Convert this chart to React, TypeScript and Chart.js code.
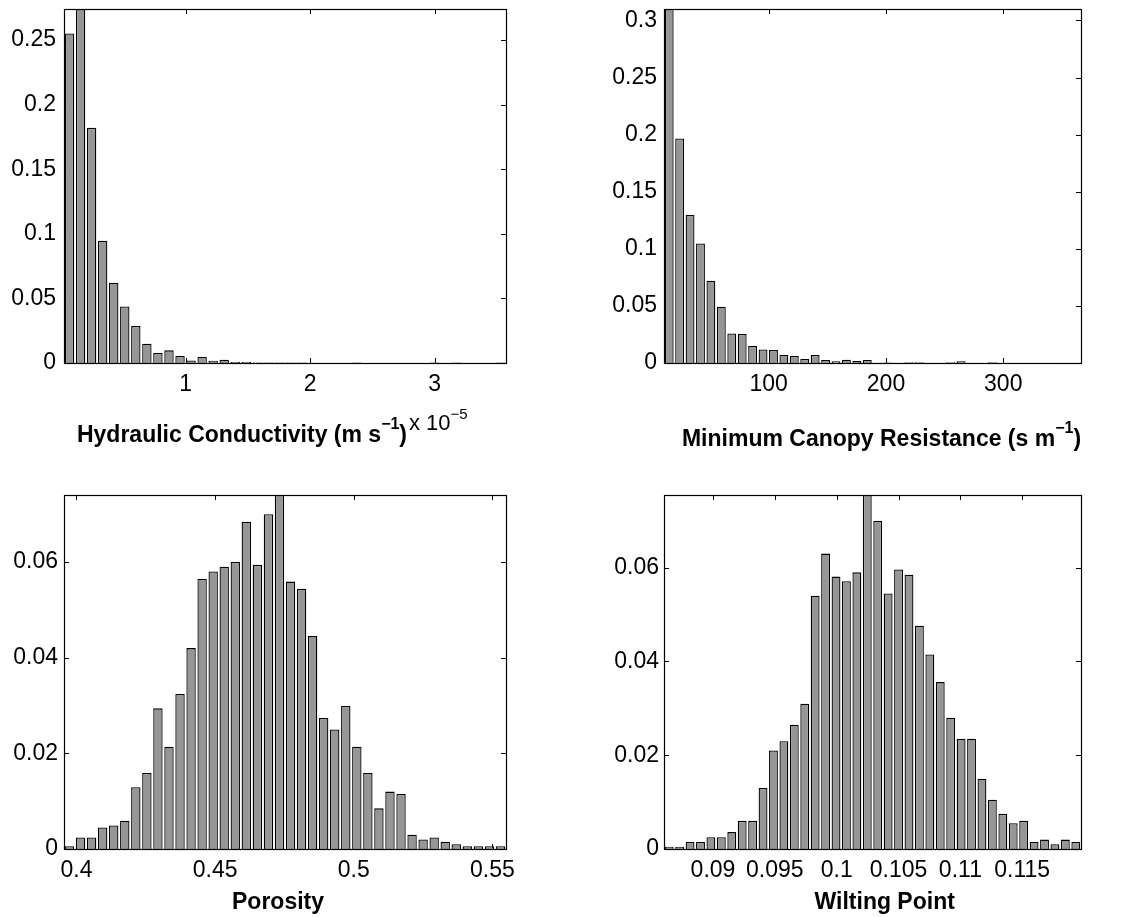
import React, { useEffect, useRef } from 'react';
import { Chart, registerables } from 'chart.js';

Chart.register(...registerables);

// ---------------- DATA ----------------
// Panel 1: Hydraulic Conductivity (x 10^-5 m s^-1), 40 bins over the axis range
const hcRange = [0.022, 3.573];
const hcFreq = [
  0.255, 0.28, 0.182, 0.0946, 0.0621, 0.0438, 0.0286, 0.0149, 0.0077, 0.0098,
  0.0054, 0.002, 0.0046, 0.0018, 0.0026, 0.0008, 0.0008, 0.0003, 0.0003, 0.0003,
  0.0003, 0.0003, 0, 0, 0, 0, 0.0003, 0, 0, 0,
  0, 0, 0, 0.0003, 0, 0.0003, 0, 0, 0, 0.0003,
];
const hcXTicks = [1, 2, 3];
const hcYTicks = [0, 0.05, 0.1, 0.15, 0.2, 0.25];
const hcYMax = 0.274;

// Panel 2: Minimum Canopy Resistance (s m^-1)
const mcrRange = [10.7, 366.3];
const mcrFreq = [
  0.317, 0.1967, 0.1297, 0.1046, 0.072, 0.0492, 0.0259, 0.0254, 0.0149, 0.0119,
  0.0114, 0.0073, 0.0061, 0.0035, 0.007, 0.0026, 0.0015, 0.0029, 0.0017, 0.0026,
  0.0003, 0.0005, 0.0003, 0.0007, 0.0007, 0.0003, 0, 0.0007, 0.0015, 0.0003,
  0, 0.0007, 0, 0, 0, 0, 0, 0, 0.0003, 0.0003,
];
const mcrXTicks = [100, 200, 300];
const mcrYTicks = [0, 0.05, 0.1, 0.15, 0.2, 0.25, 0.3];
const mcrYMax = 0.31;

// Panel 3: Porosity
const porRange = [0.3955, 0.5549];
const porFreq = [
  0.0006, 0.0024, 0.0024, 0.0045, 0.0049, 0.0059, 0.0129, 0.0159, 0.0294, 0.0214,
  0.0324, 0.042, 0.0565, 0.058, 0.059, 0.06, 0.0684, 0.0594, 0.07, 0.0753,
  0.0559, 0.0544, 0.0445, 0.0274, 0.025, 0.0299, 0.0214, 0.0159, 0.0085, 0.012,
  0.0115, 0.003, 0.002, 0.0024, 0.0015, 0.001, 0.0006, 0.0006, 0.0006, 0.0006,
];
const porXTicks = [0.4, 0.45, 0.5, 0.55];
const porYTicks = [0, 0.02, 0.04, 0.06];
const porYMax = 0.074;

// Panel 4: Wilting Point
const wpRange = [0.08604, 0.11975];
const wpFreq = [
  0.0005, 0.0005, 0.0015, 0.0015, 0.0025, 0.0025, 0.0036, 0.006, 0.006, 0.013,
  0.021, 0.023, 0.0265, 0.031, 0.054, 0.063, 0.0581, 0.0571, 0.059, 0.078,
  0.07, 0.0545, 0.0596, 0.0585, 0.0476, 0.0415, 0.0356, 0.028, 0.0235, 0.0235,
  0.015, 0.0105, 0.0075, 0.0055, 0.006, 0.0015, 0.002, 0.001, 0.002, 0.0015,
];
const wpXTicks = [0.09, 0.095, 0.1, 0.105, 0.11, 0.115];
const wpYTicks = [0, 0.02, 0.04, 0.06];
const wpYMax = 0.0755;

// ---------------- STYLE / LAYOUT ----------------
const FONT = '"Liberation Sans", Arial, Helvetica, sans-serif';
const TICK_SIZE = 23;
const LABEL_SIZE = 23;
const BAR_FILL = '#969696';

type Seg = { text: string; sup?: boolean };

type PanelCfg = {
  range: number[];
  freq: number[];
  xTicks: number[];
  yTicks: number[];
  yMax: number;
  left: number;
  top: number;
  w: number;
  h: number;
  yAxisW: number;
  xAxisH: number;
  padTop: number;
  padRight: number;
  yPad: number;
  label: Seg[];
  labelX: number;
  labelY: number;
  exponent?: { segs: Seg[]; x: number; y: number };
};

function binCenters(range: number[], n: number) {
  const w = (range[1] - range[0]) / n;
  return Array.from({ length: n }, (_, i) => range[0] + (i + 0.5) * w);
}

function drawRich(
  ctx: CanvasRenderingContext2D,
  segs: Seg[],
  x0: number,
  baseline: number,
  weight: string,
  size: number,
  supSize: number,
  supRise: number,
  align: 'center' | 'left'
) {
  const fMain = `${weight} ${size}px ${FONT}`;
  const fSup = `${weight} ${supSize}px ${FONT}`;
  let total = 0;
  const widths = segs.map((s) => {
    ctx.font = s.sup ? fSup : fMain;
    const w = ctx.measureText(s.text).width;
    total += w;
    return w;
  });
  let x = align === 'center' ? x0 - total / 2 : x0;
  ctx.textAlign = 'left';
  ctx.textBaseline = 'alphabetic';
  ctx.fillStyle = '#000';
  segs.forEach((s, i) => {
    ctx.font = s.sup ? fSup : fMain;
    ctx.fillText(s.text, x, s.sup ? baseline - supRise : baseline);
    x += widths[i];
  });
}

const matlabAxes = {
  id: 'matlabAxes',
  beforeDatasetsDraw(chart: any, _args: any, opts: any) {
    const { ctx, chartArea: a, scales } = chart;
    const tl = 5;
    ctx.save();
    ctx.strokeStyle = '#000';
    ctx.lineWidth = 1;
    ctx.beginPath();
    (opts.xTicks as number[]).forEach((v) => {
      const px = Math.round(scales.x.getPixelForValue(v)) + 0.5;
      ctx.moveTo(px, a.bottom);
      ctx.lineTo(px, a.bottom - tl);
      ctx.moveTo(px, a.top);
      ctx.lineTo(px, a.top + tl);
    });
    (opts.yTicks as number[]).forEach((v) => {
      const py = Math.round(scales.y.getPixelForValue(v)) + 0.5;
      ctx.moveTo(a.left, py);
      ctx.lineTo(a.left + tl, py);
      ctx.moveTo(a.right, py);
      ctx.lineTo(a.right - tl, py);
    });
    ctx.stroke();
    ctx.restore();
  },
  afterDatasetsDraw(chart: any, _args: any, opts: any) {
    const { ctx, chartArea: a } = chart;
    ctx.save();
    ctx.strokeStyle = '#000';
    ctx.lineWidth = 1.2;
    ctx.strokeRect(a.left + 0.5, a.top + 0.5, a.right - a.left, a.bottom - a.top);
    drawRich(ctx, opts.label, opts.labelX, opts.labelY, 'bold', LABEL_SIZE, 16, 13, 'center');
    if (opts.exponent) {
      drawRich(ctx, opts.exponent.segs, opts.exponent.x, opts.exponent.y, 'normal', 22, 15, 11, 'left');
    }
    ctx.restore();
  },
};

const fmt = (v: any) => String(v);

function buildConfig(p: PanelCfg): any {
  const centers = binCenters(p.range, p.freq.length);
  return {
    type: 'bar',
    data: {
      datasets: [
        {
          data: centers.map((x, i) => ({ x, y: p.freq[i] })),
          backgroundColor: BAR_FILL,
          borderColor: '#000',
          borderWidth: 1.3,
          barPercentage: 0.85,
          categoryPercentage: 1,
          clip: 0,
        },
      ],
    },
    options: {
      animation: false,
      responsive: false,
      devicePixelRatio: 1,
      layout: { padding: { top: p.padTop, right: p.padRight, left: 0, bottom: 0 } },
      plugins: {
        legend: { display: false },
        tooltip: { enabled: false },
        matlabAxes: {
          xTicks: p.xTicks,
          yTicks: p.yTicks,
          label: p.label,
          labelX: p.labelX,
          labelY: p.labelY,
          exponent: p.exponent,
        },
      },
      scales: {
        x: {
          type: 'linear',
          min: p.range[0],
          max: p.range[1],
          offset: false,
          grid: { display: false, drawTicks: false },
          border: { display: false },
          ticks: {
            autoSkip: false,
            maxRotation: 0,
            minRotation: 0,
            padding: 8,
            color: '#000',
            font: { family: FONT, size: TICK_SIZE },
            callback: fmt,
          },
          afterBuildTicks: (s: any) => {
            s.ticks = p.xTicks.map((v) => ({ value: v }));
          },
          afterFit: (s: any) => {
            s.height = p.xAxisH;
            s.paddingLeft = 0;
            s.paddingRight = 0;
          },
        },
        y: {
          type: 'linear',
          min: 0,
          max: p.yMax,
          grid: { display: false, drawTicks: false },
          border: { display: false },
          ticks: {
            autoSkip: false,
            padding: p.yPad,
            color: '#000',
            font: { family: FONT, size: TICK_SIZE },
            callback: fmt,
          },
          afterBuildTicks: (s: any) => {
            s.ticks = p.yTicks.map((v) => ({ value: v }));
          },
          afterFit: (s: any) => {
            s.width = p.yAxisW;
            s.paddingTop = 0;
            s.paddingBottom = 0;
          },
        },
      },
    },
    plugins: [matlabAxes],
  };
}

const MINUS = '\u2212';

const panels: PanelCfg[] = [
  {
    range: hcRange, freq: hcFreq, xTicks: hcXTicks, yTicks: hcYTicks, yMax: hcYMax,
    left: 0, top: 0, w: 562, h: 460, yAxisW: 64, xAxisH: 97, padTop: 9, padRight: 56, yPad: 8,
    label: [{ text: 'Hydraulic Conductivity (m s' }, { text: MINUS + '1', sup: true }, { text: ')' }],
    labelX: 242, labelY: 442,
    exponent: { segs: [{ text: 'x 10' }, { text: MINUS + '5', sup: true }], x: 409, y: 430 },
  },
  {
    range: mcrRange, freq: mcrFreq, xTicks: mcrXTicks, yTicks: mcrYTicks, yMax: mcrYMax,
    left: 562, top: 0, w: 562, h: 460, yAxisW: 102, xAxisH: 97, padTop: 9, padRight: 43, yPad: 7,
    label: [{ text: 'Minimum Canopy Resistance (s m' }, { text: MINUS + '1', sup: true }, { text: ')' }],
    labelX: 319.5, labelY: 446,
  },
  {
    range: porRange, freq: porFreq, xTicks: porXTicks, yTicks: porYTicks, yMax: porYMax,
    left: 0, top: 460, w: 562, h: 457, yAxisW: 64, xAxisH: 68, padTop: 35, padRight: 56, yPad: 6,
    label: [{ text: 'Porosity' }],
    labelX: 278, labelY: 449,
  },
  {
    range: wpRange, freq: wpFreq, xTicks: wpXTicks, yTicks: wpYTicks, yMax: wpYMax,
    left: 562, top: 460, w: 562, h: 457, yAxisW: 102, xAxisH: 68, padTop: 35, padRight: 43, yPad: 5,
    label: [{ text: 'Wilting Point' }],
    labelX: 322.7, labelY: 449,
  },
];

function HistPanel({ cfg }: { cfg: PanelCfg }) {
  const ref = useRef<HTMLCanvasElement>(null);
  useEffect(() => {
    if (!ref.current) return;
    const chart = new Chart(ref.current, buildConfig(cfg));
    return () => chart.destroy();
  }, [cfg]);
  return (
    <canvas
      ref={ref}
      width={cfg.w}
      height={cfg.h}
      style={{ position: 'absolute', left: cfg.left, top: cfg.top, width: cfg.w, height: cfg.h }}
    />
  );
}

export default function App() {
  useEffect(() => {
    document.body.style.margin = '0';
    document.body.style.background = '#fff';
  }, []);
  return (
    <div style={{ position: 'relative', width: 1124, height: 917, background: '#fff', overflow: 'hidden' }}>
      {panels.map((p, i) => (
        <HistPanel key={i} cfg={p} />
      ))}
    </div>
  );
}
